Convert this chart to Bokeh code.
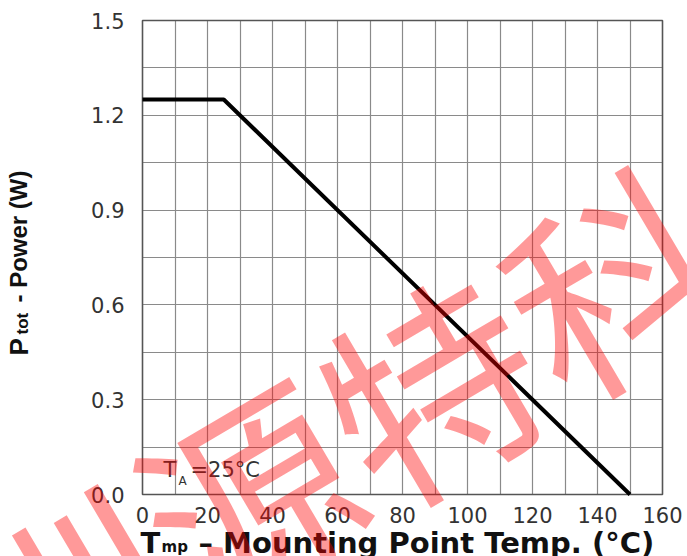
import math
from bokeh.plotting import figure
from bokeh.models import FixedTicker, PrintfTickFormatter, Label, Range1d, Grid
from bokeh.embed import file_html
from bokeh.resources import INLINE

# ---- data ----
temp_c = [0, 25, 150]
power_w = [1.25, 1.25, 0.0]
x_ticks = [0, 20, 40, 60, 80, 100, 120, 140, 160]
y_ticks = [0.0, 0.3, 0.6, 0.9, 1.2, 1.5]
x_grid = [0, 10, 20, 30, 40, 50, 60, 70, 80, 90, 100, 110, 120, 130, 140, 150, 160]
y_grid = [0.0, 0.15, 0.3, 0.45, 0.6, 0.75, 0.9, 1.05, 1.2, 1.35, 1.5]
watermark = "深圳源特科技"

FONT = "DejaVu Sans"
YFONT = "Liberation Sans"
TXT = "#333333"
TITLE = "#111111"

W, H = 687, 556
FL, FR, FT, FB = 142, 662, 20, 494   # chart box edges in canvas px
XMIN, XMAX = x_ticks[0], x_ticks[-1]
YMIN, YMAX = y_ticks[0], y_ticks[-1]
SX = (XMAX - XMIN) / (FR - FL)
SY = (YMAX - YMIN) / (FB - FT)
BSHIFT = 9   # compensation for text baseline placement


def X(px):
    return XMIN + (px - FL) * SX


def Y(py):
    return YMIN + (FB - py) * SY


p = figure(width=W, height=H,
           x_range=Range1d(X(0), X(W)), y_range=Range1d(Y(H), Y(0)),
           output_backend="svg", toolbar_location=None, min_border=0)
p.background_fill_color = "white"
p.border_fill_color = "white"
p.outline_line_color = None

for ax, loc, bnd in ((p.xaxis[0], YMIN, (XMIN, XMAX)), (p.yaxis[0], XMIN, (YMIN, YMAX))):
    ax.fixed_location = loc
    ax.bounds = bnd
    ax.major_label_text_font = FONT
    ax.major_label_text_font_size = "21px"
    ax.major_label_text_color = TXT
    ax.major_tick_line_color = None
    ax.minor_tick_line_color = None
    ax.axis_line_color = None
p.xaxis.ticker = FixedTicker(ticks=x_ticks)
p.yaxis.ticker = FixedTicker(ticks=y_ticks)
p.yaxis.formatter = PrintfTickFormatter(format="%.1f")
p.xaxis.major_label_standoff = 6
p.yaxis.major_label_standoff = 12

GRID_COLOR = "#8a8a8a"
if "cross_bounds" in Grid.properties():
    p.xgrid.ticker = FixedTicker(ticks=x_grid)
    p.ygrid.ticker = FixedTicker(ticks=y_grid)
    p.xgrid.bounds = (XMIN, XMAX)
    p.ygrid.bounds = (YMIN, YMAX)
    p.xgrid.cross_bounds = (YMIN, YMAX)
    p.ygrid.cross_bounds = (XMIN, XMAX)
    for g in (p.xgrid[0], p.ygrid[0]):
        g.grid_line_color = GRID_COLOR
        g.grid_line_width = 1.2
else:
    p.xgrid.visible = False
    p.ygrid.visible = False
    p.segment(x0=x_grid, y0=[YMIN] * len(x_grid), x1=x_grid, y1=[YMAX] * len(x_grid),
              line_color=GRID_COLOR, line_width=1.2)
    p.segment(x0=[XMIN] * len(y_grid), y0=y_grid, x1=[XMAX] * len(y_grid), y1=y_grid,
              line_color=GRID_COLOR, line_width=1.2)

# chart box
p.quad(left=[XMIN], right=[XMAX], bottom=[YMIN], top=[YMAX],
       fill_color=None, line_color="#555555", line_width=1.5)

p.line(temp_c, power_w, line_width=4, color="black")


def lab(text, px, py, size, bold=False, angle=0, color=TXT, align="left",
        base="alphabetic", font=FONT, alpha=1.0):
    p.add_layout(Label(x=X(px), y=Y(py), text=text,
                       text_font=font, text_font_size=f"{size}px",
                       text_font_style="bold" if bold else "normal", angle=angle,
                       text_color=color, text_align=align, text_baseline=base,
                       text_alpha=alpha))


# T_A = 25°C annotation (baseline in reference px, compensated)
lab("T", 163, 478 - BSHIFT, 21)
lab("A", 178, 489 - BSHIFT, 12)
lab("=25°C", 190, 478 - BSHIFT, 21)

# x axis title
lab("T", 140, 551 - BSHIFT, 29, bold=True, color=TITLE)
lab("mp", 161, 555 - BSHIFT, 15, bold=True, color=TITLE)
lab("– Mounting Point Temp.  (°C)", 198, 551 - BSHIFT, 29, bold=True, color=TITLE)

# y axis title (rotated)
ang = math.pi / 2
lab("P", 27 - BSHIFT, 355, 26, bold=True, angle=ang, color=TITLE, font=YFONT)
lab("tot", 31 - BSHIFT, 334, 17, bold=True, angle=ang, color=TITLE, font=YFONT)
lab("- Power (W)", 27 - BSHIFT, 302, 24, bold=True, angle=ang, color=TITLE, font=YFONT)

# watermark
lab(watermark, 336, 436, 212, angle=math.radians(30.5), color="#ff0000",
    align="center", base="middle", font="Noto Sans CJK SC", alpha=0.4)

open("out.html", "w").write(file_html(p, INLINE))
